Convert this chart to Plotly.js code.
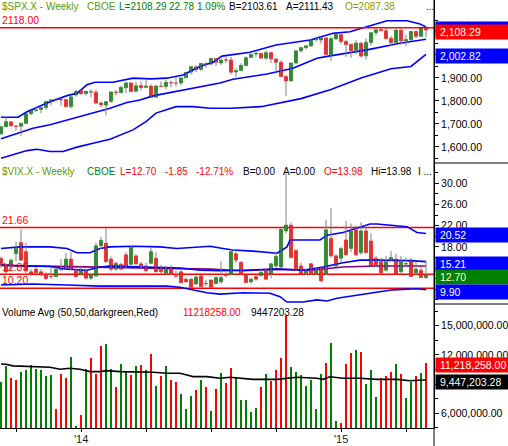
<!DOCTYPE html>
<html><head><meta charset="utf-8">
<script src="https://cdn.plot.ly/plotly-3.0.1.min.js"></script>
<style>html,body{margin:0;padding:0;background:#fff;}#chart{width:508px;height:446px;}</style>
</head><body><div id="chart"></div>
<script>
// ---------- SPX weekly (Sep 13 2013 .. May 1 2015), one entry per week ----------
const spxOpen  = [1656,1688,1709,1691,1690,1702,1744,1759,1763,1771,1798,1807,1807,1806,1775,1826,1845,1832,1841,1837,1791,1782,1798,1839,1836,1857,1878,1842,1867,1859,1865,1816,1865,1863,1880,1878,1878,1901,1925,1948,1937,1962,1960,1984,1965,1979,1978,1926,1933,1954,1989,2004,2007,1986,2010,1982,1968,1906,1887,1965,2018,2032,2039,2065,2065,2074,2002,2070,2088,2059,2046,2020,2051,1996,2054,2097,2110,2105,2072,2053,2108,2061,2066,2102,2081,2119];
const spxHigh  = [1689,1730,1711,1696,1706,1745,1760,1775,1771,1798,1804,1813,1810,1809,1823,1849,1849,1843,1850,1849,1798,1798,1841,1847,1867,1883,1881,1883,1884,1897,1872,1869,1884,1891,1889,1902,1901,1924,1950,1955,1963,1968,1985,1986,1983,1991,1991,1942,1964,1994,2005,2011,2008,2019,2010,1986,1977,1912,1965,2018,2034,2041,2071,2075,2079,2076,2077,2093,2093,2064,2049,2064,2057,2072,2097,2110,2120,2117,2083,2114,2114,2088,2102,2107,2120,2126];
const spxLow   = [1655,1687,1687,1670,1646,1700,1740,1752,1746,1761,1780,1800,1779,1772,1767,1818,1827,1823,1815,1790,1772,1737,1791,1824,1836,1834,1839,1839,1845,1859,1814,1816,1860,1851,1859,1862,1868,1901,1915,1925,1931,1944,1958,1952,1955,1965,1916,1904,1928,1954,1988,1990,1985,1978,1965,1926,1906,1821,1886,1960,2010,2025,2034,2062,2049,2002,1973,2066,2046,1992,1988,2004,1990,1980,2041,2085,2103,2067,2039,2046,2045,2039,2062,2072,2079,2077];
const spxClose = [1688,1710,1692,1689,1703,1744,1760,1762,1771,1798,1805,1805,1804,1775,1818,1841,1831,1842,1838,1790,1783,1797,1839,1836,1859,1878,1841,1866,1858,1865,1816,1865,1863,1881,1878,1877,1900,1924,1949,1936,1963,1961,1985,1968,1978,1977,1925,1932,1955,1988,2003,2008,1986,2010,1983,1968,1906,1887,1965,2018,2032,2040,2064,2068,2075,2002,2071,2089,2058,2045,2019,2052,1995,2055,2097,2110,2105,2071,2053,2108,2061,2067,2102,2081,2118,2108.29];

// SPX bands (bar index, value)
const spxUpperIdx = [0,3.4,5.2,9.2,13.2,15.2,17.2,18.8,22.4,26.4,29.8,33.2,36.4,39.8,42.4,44.2,49.8,55,61.8,66.4,69.8,74.4,77.2,81.2,83.8,85];
const spxUpperVal = [1729,1729,1753,1791,1823,1833,1870,1881,1881,1899,1896,1899,1913,1950,1968,1995,2012,2043,2065,2094,2101,2130,2149,2149,2135,2121.54];
const spxLowerIdx = [0,2.4,6.4,9.8,13.2,17.2,19.2,21.8,25.2,27.8,30.4,34.4,38.4,43.8,46.4,53.2,58.4,63.2,65.8,73.2,79.8,85];
const spxLowerVal = [1635,1652,1681,1696,1717,1739,1751,1768,1793,1804,1822,1839,1855,1878,1894,1917,1942,1986,1996,2022,2051,2068];
const spxLowestIdx = [0,2.4,5.2,7.2,9.8,12.4,15.2,18.4,21.8,26.4,29,31,35,38.4,41.8,46,52,60,66,72,78,82,85];
const spxLowestVal = [1551,1565,1584,1590,1580,1580,1599,1616,1633,1674,1710,1747,1775,1775,1768,1768,1775,1810,1850,1900,1940,1950,2002.82];
const spxLevels = [2118.00];

// ---------- VIX weekly ----------
const vixOpen  = [15.8,14.4,14.6,16.7,18.8,17.1,13.3,13.8,13.3,12.8,12.4,12.4,13.85,13.8,15.7,13.5,12.9,13.5,12.1,12.5,18.2,18.7,15.7,13.8,14.7,16.5,14.7,16.3,14.8,14.4,14.9,15.85,14.2,13.0,14.2,12.55,13.3,11.9,11.9,11.0,12.5,11.15,11.75,11.1,11.4,12.8,12.8,16.7,15.1,12.8,11.4,12.4,12.6,13.5,12.9,14.4,14.2,21.0,22.1,17.3,14.4,13.0,14.8,12.9,14.1,12.9,19.6,16.3,15.85,19.3,17.7,21.2,16.9,21.0,19.1,15.85,15.2,13.6,15.5,15.7,13.3,14.85,15.5,13.1,13.6,12.2];
const vixHigh  = [16.2,14.6,15.8,19.0,21.3,18.8,13.8,14.2,13.8,13.3,14.0,14.2,15.7,16.8,17.0,13.9,14.5,13.9,13.0,18.8,19.9,21.5,16.2,15.2,15.0,17.0,18.2,16.6,15.2,15.0,17.9,17.0,14.6,14.3,14.5,13.5,13.6,12.2,12.1,12.6,12.7,11.8,11.9,12.5,15.3,13.2,17.5,17.0,15.3,13.0,12.2,12.6,14.0,14.0,15.0,17.1,21.5,31.8,22.6,17.6,15.0,13.9,15.0,14.2,14.4,23.1,25.3,16.6,18.0,22.9,22.4,22.0,22.6,22.2,20.5,16.3,16.0,16.3,17.2,16.7,16.3,16.0,15.9,15.2,14.3,15.4];
const vixLow   = [14.0,12.8,13.4,15.3,15.3,13.0,12.5,12.9,12.4,11.8,12.0,12.3,13.4,13.6,13.6,12.2,12.6,12.0,11.8,12.3,17.6,15.0,13.4,13.5,13.6,13.9,14.5,14.5,14.0,13.2,14.7,13.2,13.0,12.8,12.7,12.2,11.2,11.3,10.3,10.8,10.4,10.6,10.3,10.9,11.0,12.2,12.6,15.0,12.6,11.2,11.1,11.6,12.4,11.7,12.1,14.0,14.0,20.5,15.8,13.5,12.8,12.7,12.7,12.7,11.3,12.6,16.0,14.2,15.0,16.3,17.0,16.2,16.5,16.8,14.3,14.1,13.0,13.3,15.3,12.8,13.0,14.2,12.3,12.8,12.1,12.0];
const vixClose = [14.5,13.3,15.5,17.7,15.5,13.5,12.9,13.1,12.7,12.0,12.35,13.8,13.7,15.7,13.8,12.4,13.6,12.1,12.7,18.2,19.2,15.2,13.8,14.9,13.8,14.2,17.9,14.8,14.4,13.5,17.1,13.3,13.3,14.2,12.9,12.45,11.25,11.4,10.4,12.3,10.5,11.05,10.4,12.2,12.2,12.6,17.1,15.5,12.8,11.25,11.9,11.9,13.2,11.9,14.8,16.2,21.3,22.1,16.0,13.6,12.9,13.6,12.9,13.8,11.6,21.2,16.3,14.4,17.7,16.5,21.0,16.5,21.0,16.9,14.4,14.4,13.1,15.2,16.0,12.9,15.2,14.75,12.4,13.8,12.2,12.70];

const vixUpperIdx = [0,3.8,9.8,13.2,15.2,17.8,19.8,21.8,26.4,31.8,35.2,39.8,41.8,44.4,46.4,50.4,55.2,57.2,57.8,63.8,65.2,68.4,71.2,73.8,75.2,81.2,83.2,85];
const vixUpperVal = [17.7,18.0,18.0,17.7,16.9,16.9,17.7,18.0,18.1,18.0,17.7,18.0,18.1,17.7,17.4,17.2,16.8,18.0,19.3,19.3,20.2,20.7,21.5,22.3,22.3,21.8,20.7,20.52];
const vixMidIdx = [0,3.8,9.8,13.2,17.2,19.8,21.8,26.4,31.8,35.8,39.8,43.8,48.4,55.2,60.4,64.4,68.4,71.8,75.2,81.8,85];
const vixMidVal = [14.6,14.4,14.3,13.8,13.6,14.2,14.4,14.3,14.2,14.0,13.6,13.5,13.6,13.8,13.6,14.2,15.0,15.5,15.5,15.4,15.21];
const vixAvgIdx = [0,9.8,19.8,35.8,41.8,48.4,55.2,61.8,68.4,75.2,85];
const vixAvgVal = [14.5,14.3,14.2,13.9,13.8,13.5,13.8,13.6,14.2,14.4,14.4];
const vixLowerIdx = [0,6.4,13.2,19.8,26.4,33.2,35.8,38.4,41.2,43.8,48.4,53.8,55.8,57.2,60.4,63.2,65.2,67.2,69.2,71.8,78.4,83.2,85];
const vixLowerVal = [10.8,11.0,10.8,10.6,10.6,10.6,10.4,9.87,9.36,9.1,9.36,9.25,8.6,7.6,7.6,8.0,7.8,8.3,8.6,9.0,9.9,10.1,9.90];
const vixLevels = [21.66, 12.85, 10.20];

// ---------- Volume ----------
const volume = [9.25,10.89,9.60,9.42,10.28,10.45,10.97,10.55,10.45,9.83,9.94,6.44,10.04,9.63,11.79,4.70,5.83,10.52,11.68,10.04,12.92,13.12,10.52,8.70,11.07,10.28,9.94,10.86,10.97,10.45,12.10,8.81,9.83,10.86,9.42,9.22,7.98,6.44,7.78,8.40,9.42,8.70,6.24,8.50,10.18,9.16,10.70,9.70,7.37,7.37,6.16,6.51,8.73,10.04,9.32,10.45,11.72,15.97,10.79,10.28,9.94,8.84,9.42,6.44,10.04,11.14,13.26,5.24,5.03,11.04,12.17,12.51,12.33,8.98,10.45,7.71,9.66,9.83,10.28,11.04,10.01,7.60,9.25,9.83,10.17,11.218258].map(v => v * 1e6);
const volAvgIdx = [0,1,2.4,6.4,8.4,9.8,11.8,13.8,15.8,17.8,19.8,21.2,23.8,27.8,30.4,33.2,35.8,37.2,38.4,41.2,42.4,43.8,45.8,48.4,50.4,55.2,59.2,63.2,64.4,65.8,67.2,68.4,71.8,75.2,79.2,81.8,84.4,85];
const volAvgVal = [11.07,11.04,10.87,10.80,10.80,10.73,10.53,10.63,10.53,10.28,10.28,10.38,10.28,10.28,10.22,10.11,10.11,9.94,9.77,9.77,9.70,9.60,9.70,9.60,9.49,9.49,9.70,9.60,9.49,9.76,9.70,9.60,9.60,9.49,9.49,9.35,9.42,9.447].map(v => v * 1e6);

const quarterTicks = [3,16,29,42,55,68,81];
const quarterLabels = ['', "'14", '', '', '', "'15", ''];

// ---------- styling ----------
const GREEN = '#008000', RED = '#ff0000', BLUE = '#0000ff', WICK = '#808080', PURPLE = '#800080';
const FONT = 'Liberation Sans, Arial, sans-serif';
const FS = 10.5, HFS = 10;
const PLOT_W = 434, PLOT_H = 428;
const weeks = spxClose.map((_, i) => i);

function wickTrace(H, L, yaxis) {
  const x = [], y = [];
  weeks.forEach(i => { x.push(i, i, null); y.push(L[i], H[i], null); });
  return {type: 'scatter', mode: 'lines', x, y, yaxis, line: {color: WICK, width: 1}, hoverinfo: 'skip'};
}
function bodyTrace(O, C, yaxis) {
  const cols = weeks.map(i => C[i] >= O[i] ? GREEN : RED);
  return {type: 'bar', x: weeks, base: O, y: weeks.map(i => C[i] - O[i]), yaxis, width: 0.62,
    marker: {color: cols, line: {color: cols, width: 0.6}}, hoverinfo: 'skip'};
}
function lineTrace(xs, ys, yaxis, color, w) {
  return {type: 'scatter', mode: 'lines', x: xs, y: ys, yaxis, line: {color, width: w || 1.6}, hoverinfo: 'skip'};
}

const volCols = weeks.map(i => spxClose[i] >= spxOpen[i] ? GREEN : RED);

const traces = [
  lineTrace(spxUpperIdx, spxUpperVal, 'y', BLUE),
  lineTrace(spxLowerIdx, spxLowerVal, 'y', BLUE),
  lineTrace(spxLowestIdx, spxLowestVal, 'y', BLUE),
  wickTrace(spxHigh, spxLow, 'y'),
  bodyTrace(spxOpen, spxClose, 'y'),
  lineTrace(vixUpperIdx, vixUpperVal, 'y2', BLUE),
  lineTrace(vixAvgIdx, vixAvgVal, 'y2', PURPLE),
  lineTrace(vixMidIdx, vixMidVal, 'y2', BLUE),
  lineTrace(vixLowerIdx, vixLowerVal, 'y2', BLUE),
  wickTrace(vixHigh, vixLow, 'y2'),
  bodyTrace(vixOpen, vixClose, 'y2'),
  {type: 'bar', x: weeks, y: volume, yaxis: 'y3', width: 0.3, marker: {color: volCols, line: {width: 0}}, hoverinfo: 'skip'},
  lineTrace(volAvgIdx, volAvgVal, 'y3', '#000000', 1.6),
];

const shapes = [];
spxLevels.forEach(v => shapes.push({type: 'line', xref: 'paper', x0: 0, x1: 1, yref: 'y', y0: v, y1: v, line: {color: RED, width: 1.5}}));
vixLevels.forEach(v => shapes.push({type: 'line', xref: 'paper', x0: 0, x1: 1, yref: 'y2', y0: v, y1: v, line: {color: RED, width: 1.5}, layer: 'below'}));
const d1 = 1 - 163 / PLOT_H, d2 = 1 - 304 / PLOT_H;
[d1, d2].forEach(d => shapes.push({type: 'line', xref: 'paper', x0: 1, x1: 508 / PLOT_W, yref: 'paper', y0: d, y1: d, line: {color: '#000', width: 1}}));
shapes.push({type: 'line', xref: 'paper', x0: 1, x1: 1, yref: 'paper', y0: -18 / PLOT_H, y1: 1, line: {color: '#000', width: 1}});

function px(x) { return x / PLOT_W; }
function py(y) { return 1 - y / PLOT_H; }
function seg(text, x, y, color, size) {
  return {xref: 'paper', yref: 'paper', x: px(x), y: py(y), xanchor: 'left', yanchor: 'middle', showarrow: false,
    borderpad: 0, text, font: {family: FONT, size: size || HFS, color}};
}
function box(text, yref, v, bg, fg) {
  return {xref: 'paper', x: 1, xanchor: 'left', xshift: 1, yref, y: v, yanchor: 'middle', yshift: -2, showarrow: false,
    text: '&nbsp;' + text, align: 'left', width: 71, height: 12, bgcolor: bg, borderpad: 1,
    font: {family: FONT, size: FS, color: fg || '#ffffff'}};
}

const OLIVE = '#5f9a00';
const annotations = [
  seg('$SPX.X - Weekly', 1, 7, OLIVE), seg('CBOE', 86, 7, OLIVE),
  seg('L=2108.29', 118, 7, GREEN), seg('22.78', 168, 7, GREEN), seg('1.09%', 196, 7, GREEN),
  seg('B=2103.61', 228, 7, '#000'), seg('A=2111.43', 285, 7, '#000'), seg('O=2087.38', 344, 7, '#8a9a00'), seg('...', 425, 7, '#000'),
  seg('2118.00', 1, 20, RED, FS),
  seg('$VIX.X - Weekly', 1, 171, OLIVE), seg('CBOE', 86, 171, GREEN),
  seg('L=12.70', 119, 171, RED), seg('-1.85', 164, 171, RED), seg('-12.71%', 195, 171, RED),
  seg('B=0.00', 242, 171, '#000'), seg('A=0.00', 282, 171, '#000'), seg('O=13.98', 323, 171, RED),
  seg('Hi=13.98', 370, 171, '#000'), seg('I ...', 417, 171, '#000'),
  seg('21.66', 1, 220, RED, FS), seg('12.85', 1, 267, RED, FS), seg('10.20', 1, 280, RED, FS),
  seg('Volume Avg (50,50,darkgreen,Red)', 1, 312, '#000'), seg('11218258.00', 182, 312, RED), seg('9447203.28', 250, 312, '#000'),
  box('2,121.54', 'y', spxUpperVal[spxUpperVal.length - 1], BLUE),
  box('2,108.29', 'y', spxClose[spxClose.length - 1], RED),
  box('2,002.82', 'y', spxLowestVal[spxLowestVal.length - 1], BLUE),
  box('20.52', 'y2', vixUpperVal[vixUpperVal.length - 1], BLUE),
  box('15.21', 'y2', vixMidVal[vixMidVal.length - 1], BLUE),
  box('12.70', 'y2', vixClose[vixClose.length - 1], GREEN, '#ffffc8'),
  box('9.90', 'y2', vixLowerVal[vixLowerVal.length - 1], BLUE),
  box('11,218,258.00', 'y3', volume[volume.length - 1], RED),
  box('9,447,203.28', 'y3', volAvgVal[volAvgVal.length - 1], '#000'),
];
quarterTicks.forEach((t, k) => {
  if (quarterLabels[k]) annotations.push({xref: 'x', x: t, yref: 'paper', y: py(439), xanchor: 'center', yanchor: 'middle',
    showarrow: false, borderpad: 0, text: quarterLabels[k], font: {family: FONT, size: 11, color: '#1a1a1a'}});
});

const yCommon = {side: 'right', anchor: 'x', showline: true, linecolor: '#000', linewidth: 1, ticks: 'outside', ticklen: 4,
  tickcolor: '#000', showgrid: false, zeroline: false, tickfont: {family: FONT, size: FS, color: '#000'}, fixedrange: true};

const layout = {
  width: 508, height: 446, margin: {l: 0, r: 74, t: 0, b: 18}, paper_bgcolor: '#fff', plot_bgcolor: '#fff',
  showlegend: false, barmode: 'overlay', bargap: 0,
  xaxis: {anchor: 'y3', range: [-0.2, 86.6], showline: true, linecolor: '#000', linewidth: 1, ticks: 'outside', ticklen: 3,
    tickcolor: '#000', tickmode: 'array', tickvals: quarterTicks, showticklabels: false, showgrid: false, zeroline: false},
  yaxis: Object.assign({}, yCommon, {domain: [d1, 1], range: [1530, 2239], tickmode: 'array', tickvals: [1600,1700,1800,1900,2000,2100],
    ticktext: ['1,600.00','1,700.00','1,800.00','1,900.00','',''],
    minor: {tick0: 1550, dtick: 100, ticks: 'outside', ticklen: 3, tickcolor: '#000'}}),
  yaxis2: Object.assign({}, yCommon, {domain: [d2, d1], range: [7.23, 33.8], tickmode: 'array', tickvals: [10,14,18,22,26,30],
    ticktext: ['', '', '18.00', '22.00', '26.00', '30.00'],
    minor: {tick0: 8, dtick: 4, ticks: 'outside', ticklen: 3, tickcolor: '#000'}}),
  yaxis3: Object.assign({}, yCommon, {domain: [0, d2], range: [4.49e6, 17.23e6], tickmode: 'array', tickvals: [6e6, 9e6, 12e6, 15e6],
    ticktext: ['6,000,000.00', '', '12,000,000.00', '15,000,000.00'], minor: {tick0: 7.5e6, dtick: 3e6, ticks: 'outside', ticklen: 3, tickcolor: '#000'}}),
  shapes, annotations,
};

Plotly.newPlot('chart', traces, layout, {displayModeBar: false, staticPlot: true});
</script></body></html>
